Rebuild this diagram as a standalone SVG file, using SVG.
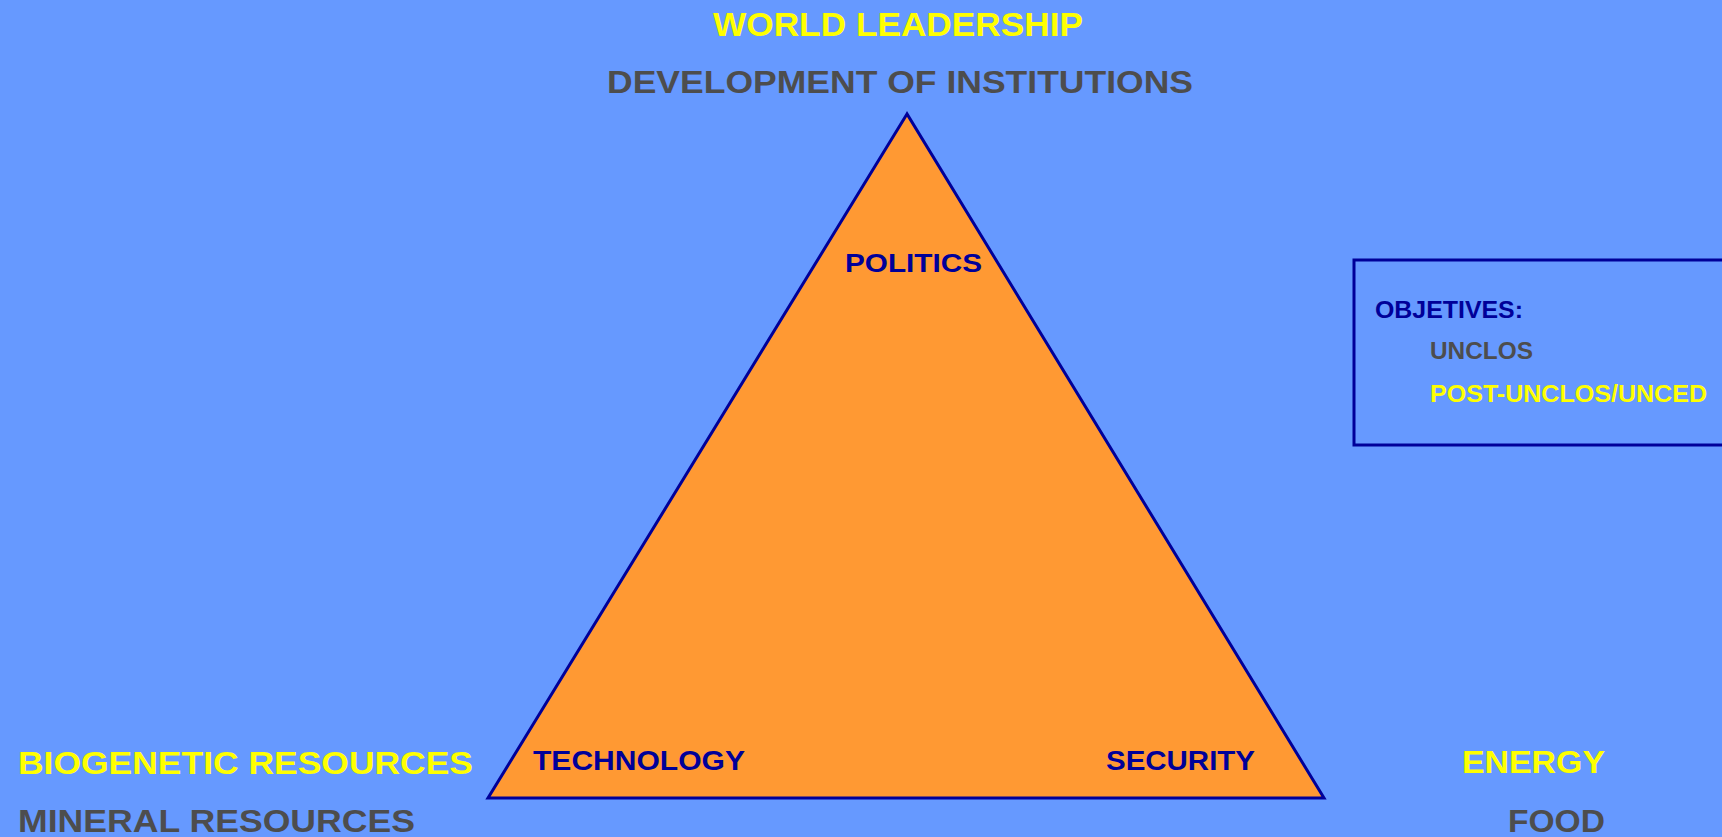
<svg xmlns="http://www.w3.org/2000/svg" width="1722" height="837" viewBox="0 0 1722 837">
<style>
.t{font-family:"Liberation Sans",Arial,sans-serif;font-weight:bold}
.y{fill:#FFFF00}
.g{fill:#4D4D4D}
.n{fill:#000099}
</style>
<rect x="0" y="0" width="1722" height="837" fill="#6699FF"/>
<g id="triangle">
<polygon points="907,114 488,798 1324,798" fill="#FF9933" stroke="#000099" stroke-width="3" stroke-linejoin="miter"/>
<text class="t n" x="845" y="272" font-size="26" textLength="137" lengthAdjust="spacingAndGlyphs">POLITICS</text>
<text class="t n" x="533" y="770" font-size="27" textLength="212" lengthAdjust="spacingAndGlyphs">TECHNOLOGY</text>
<text class="t n" x="1106" y="770" font-size="27" textLength="149" lengthAdjust="spacingAndGlyphs">SECURITY</text>
</g>
<g id="top-labels">
<text class="t y" x="713" y="36" font-size="33" textLength="370" lengthAdjust="spacingAndGlyphs">WORLD LEADERSHIP</text>
<text class="t g" x="607" y="93" font-size="32" textLength="586" lengthAdjust="spacingAndGlyphs">DEVELOPMENT OF INSTITUTIONS</text>
</g>
<g id="left-labels">
<text class="t y" x="18" y="774" font-size="31" textLength="455" lengthAdjust="spacingAndGlyphs">BIOGENETIC RESOURCES</text>
<text class="t g" x="18" y="832" font-size="32" textLength="397" lengthAdjust="spacingAndGlyphs">MINERAL RESOURCES</text>
</g>
<g id="right-labels">
<text class="t y" x="1462" y="773" font-size="31" textLength="143" lengthAdjust="spacingAndGlyphs">ENERGY</text>
<text class="t g" x="1508" y="832" font-size="31" textLength="97" lengthAdjust="spacingAndGlyphs">FOOD</text>
</g>
<g id="objectives-box">
<rect x="1354" y="260" width="380" height="185" fill="none" stroke="#000099" stroke-width="3"/>
<text class="t n" x="1375" y="318" font-size="23.5" textLength="148" lengthAdjust="spacingAndGlyphs">OBJETIVES:</text>
<text class="t g" x="1430" y="359" font-size="23" textLength="103" lengthAdjust="spacingAndGlyphs">UNCLOS</text>
<text class="t y" x="1430" y="402" font-size="23.5" textLength="277" lengthAdjust="spacingAndGlyphs">POST-UNCLOS/UNCED</text>
</g>
<g id="connectors"></g>
</svg>
